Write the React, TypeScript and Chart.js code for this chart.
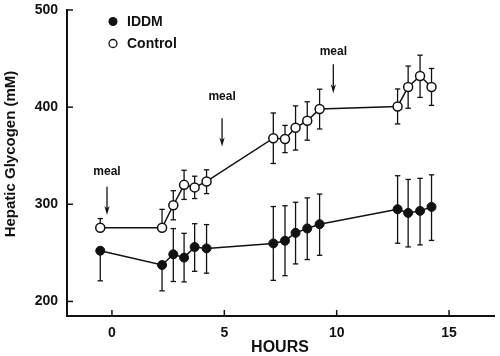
import { useEffect, useRef } from "react";
import { Chart, registerables } from "chart.js";

Chart.register(...registerables);

// ---- data ----
const hours = [-0.52, 2.23, 2.73, 3.21, 3.68, 4.21, 7.18, 7.7, 8.17, 8.69, 9.24, 12.71, 13.18, 13.71, 14.22];

const iddmValues = [252.2, 237.5, 248.5, 245.1, 256, 254.6, 259.7, 262.5, 270.6, 275.1, 279.5, 294.9, 291.1, 293.2, 297.3];
const iddmErrUp = [0, 0, 26.5, 25, 24, 24.5, 38, 36, 31.5, 31.5, 31, 34.5, 34.5, 33.5, 33];
const iddmErrDown = [31, 26.6, 28, 25, 25, 25.5, 38, 36, 32, 32, 32, 35, 35, 35, 34.5];

const controlValues = [275.8, 275.8, 299, 320, 317.4, 323.5, 368, 367.2, 378.8, 386, 398, 400.7, 420.8, 432, 420.8];
const controlErrUp = [9.5, 19, 15, 15, 11.5, 12, 26, 14, 22.5, 19.5, 20.5, 18, 21.5, 21.5, 19];
const controlErrDown = [0, 0, 15, 15, 11.5, 12.5, 26, 14, 23, 20, 20.5, 18, 22, 22, 19];

const seriesNames = ["IDDM", "Control"];

const xTicks = [0, 5, 10, 15];
const yTicks = [200, 300, 400, 500];

const mealHours = [-0.22, 4.9, 9.85];
const mealArrowTop = [318, 388.6, 444.2];
const mealArrowBottom = [289, 359.4, 414.3];
const mealLabelY = [330.3, 406.9, 453.7];
const mealLabel = "meal";

const xTitle = "HOURS";
const yTitle = "Hepatic Glycogen (mM)";

const FONT = '"Liberation Sans", Arial, Helvetica, sans-serif';
const INK = "#111";

const overlayPlugin = {
  id: "overlay",
  beforeDatasetsDraw(chart: any) {
    const ctx = chart.ctx;
    const xs = chart.scales.x;
    const ys = chart.scales.y;
    ctx.save();
    ctx.strokeStyle = INK;
    ctx.lineWidth = 1.3;
    const cap = 2.7;
    const seg = (x1: number, y1: number, x2: number, y2: number) => {
      ctx.beginPath();
      ctx.moveTo(x1, y1);
      ctx.lineTo(x2, y2);
      ctx.stroke();
    };
    const bars = (vals: number[], up: number[], down: number[]) => {
      vals.forEach((v, i) => {
        const px = xs.getPixelForValue(hours[i]);
        const py = ys.getPixelForValue(v);
        if (up[i] > 0) {
          const t = ys.getPixelForValue(v + up[i]);
          seg(px, py, px, t);
          seg(px - cap, t, px + cap, t);
        }
        if (down[i] > 0) {
          const b = ys.getPixelForValue(v - down[i]);
          seg(px, py, px, b);
          seg(px - cap, b, px + cap, b);
        }
      });
    };
    bars(iddmValues, iddmErrUp, iddmErrDown);
    bars(controlValues, controlErrUp, controlErrDown);
    ctx.restore();
  },
  afterDraw(chart: any) {
    const ctx = chart.ctx;
    const xs = chart.scales.x;
    const ys = chart.scales.y;
    const area = chart.chartArea;
    ctx.save();
    ctx.strokeStyle = INK;
    ctx.fillStyle = INK;
    // inward ticks
    ctx.lineWidth = 1.5;
    yTicks.forEach((v) => {
      const py = ys.getPixelForValue(v);
      ctx.beginPath();
      ctx.moveTo(area.left, py);
      ctx.lineTo(area.left + 6, py);
      ctx.stroke();
    });
    xTicks.forEach((v) => {
      const px = xs.getPixelForValue(v);
      ctx.beginPath();
      ctx.moveTo(px, area.bottom);
      ctx.lineTo(px, area.bottom - 6);
      ctx.stroke();
    });
    // meal arrows
    ctx.lineWidth = 1.3;
    mealHours.forEach((h, i) => {
      const px = xs.getPixelForValue(h);
      const top = ys.getPixelForValue(mealArrowTop[i]);
      const bot = ys.getPixelForValue(mealArrowBottom[i]);
      ctx.beginPath();
      ctx.moveTo(px, top);
      ctx.lineTo(px, bot - 4);
      ctx.stroke();
      ctx.beginPath();
      ctx.moveTo(px - 2.6, bot - 9);
      ctx.lineTo(px, bot);
      ctx.lineTo(px + 2.6, bot - 9);
      ctx.lineTo(px, bot - 6.5);
      ctx.closePath();
      ctx.fill();
      ctx.font = `bold 12px ${FONT}`;
      ctx.textAlign = "center";
      ctx.textBaseline = "alphabetic";
      ctx.fillText(mealLabel, px, ys.getPixelForValue(mealLabelY[i]));
    });
    // legend
    ctx.font = `bold 14px ${FONT}`;
    ctx.textAlign = "left";
    ctx.textBaseline = "middle";
    ctx.beginPath();
    ctx.arc(113, 21.5, 4.5, 0, Math.PI * 2);
    ctx.fill();
    ctx.fillText(seriesNames[0], 127, 22);
    ctx.beginPath();
    ctx.arc(113, 43.5, 4, 0, Math.PI * 2);
    ctx.fillStyle = "#fff";
    ctx.fill();
    ctx.lineWidth = 1.3;
    ctx.stroke();
    ctx.fillStyle = INK;
    ctx.fillText(seriesNames[1], 127, 44);
    // axis titles
    ctx.font = `bold 16px ${FONT}`;
    ctx.textAlign = "center";
    ctx.textBaseline = "middle";
    ctx.fillText(xTitle, 280, 348);
    ctx.translate(11, 154);
    ctx.rotate(-Math.PI / 2);
    ctx.font = `bold 15px ${FONT}`;
    ctx.fillText(yTitle, 0, 0);
    ctx.restore();
  },
};

export default function App() {
  const ref = useRef<HTMLCanvasElement | null>(null);
  useEffect(() => {
    if (!ref.current) return;
    const chart = new Chart(ref.current, {
      type: "line",
      data: {
        datasets: [
          {
            label: seriesNames[0],
            data: hours.map((h, i) => ({ x: h, y: iddmValues[i] })),
            borderColor: INK,
            borderWidth: 1.5,
            backgroundColor: INK,
            pointBackgroundColor: INK,
            pointBorderColor: INK,
            pointBorderWidth: 1,
            pointRadius: 4.5,
            tension: 0,
          },
          {
            label: seriesNames[1],
            data: hours.map((h, i) => ({ x: h, y: controlValues[i] })),
            borderColor: INK,
            borderWidth: 1.5,
            backgroundColor: "#fff",
            pointBackgroundColor: "#fff",
            pointBorderColor: INK,
            pointBorderWidth: 1.5,
            pointRadius: 4.5,
            tension: 0,
          },
        ],
      },
      options: {
        responsive: false,
        animation: false,
        layout: { padding: { top: 10, right: 3, left: 0, bottom: 0 } },
        plugins: { legend: { display: false }, tooltip: { enabled: false } },
        scales: {
          x: {
            type: "linear",
            min: -2,
            max: 17,
            afterBuildTicks: (s: any) => {
              s.ticks = xTicks.map((v) => ({ value: v }));
            },
            afterFit: (s: any) => {
              s.height = 40;
              s.paddingLeft = 0;
              s.paddingRight = 0;
            },
            grid: { display: false, drawTicks: false },
            border: { display: true, color: INK, width: 2 },
            ticks: {
              padding: 9,
              color: INK,
              font: { family: FONT, size: 14, weight: "bold" },
            },
          },
          y: {
            type: "linear",
            min: 185,
            max: 500,
            afterBuildTicks: (s: any) => {
              s.ticks = yTicks.map((v) => ({ value: v }));
            },
            afterFit: (s: any) => {
              s.width = 67;
              s.paddingTop = 0;
              s.paddingBottom = 0;
            },
            grid: { display: false, drawTicks: false },
            border: { display: true, color: INK, width: 2 },
            ticks: {
              padding: 9,
              color: INK,
              font: { family: FONT, size: 14, weight: "bold" },
            },
          },
        },
      },
      plugins: [overlayPlugin],
    } as any);
    return () => chart.destroy();
  }, []);
  return (
    <div style={{ position: "fixed", left: 0, top: 0, width: 500, height: 356, background: "#fff" }}>
      <canvas ref={ref} width={500} height={356} style={{ display: "block" }} />
    </div>
  );
}
